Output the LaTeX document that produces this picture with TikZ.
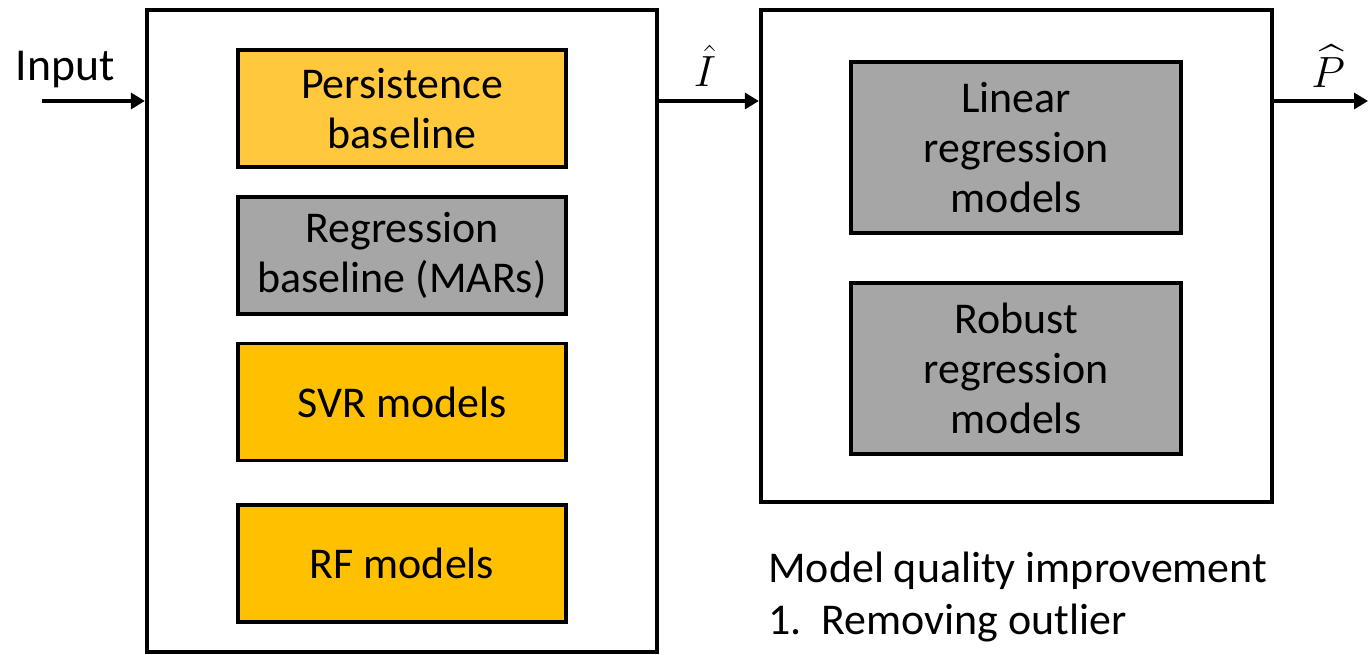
\documentclass[tikz,border=0pt]{standalone}
\usepackage{amsmath}
\usepackage{fontspec}
\setmainfont{Carlito}
\usepackage{tikz}
\usetikzlibrary{positioning, arrows.meta}
\definecolor{persist}{HTML}{FFC83D}
\definecolor{gold}{HTML}{FFC000}
\definecolor{grayfill}{HTML}{A6A6A6}
\tikzset{x=0.02cm, y=-0.02cm, % one unit is one pixel of the layout
outer/.style={draw, line width=2.5pt, minimum width=10.2cm}, % the two big frames
model/.style={draw, line width=2.2pt, align=center, minimum width=6.56cm, font=\fontsize{25}{28.5}\selectfont}, % the inner boxes
flow/.style={-{Triangle[length=0.28cm, width=0.32cm]}, line width=1.9pt}, % the signal arrows
}

\begin{document}
\begin{tikzpicture}
\useasboundingbox (0,0) rectangle (1368,655);

\node[outer, minimum height=12.84cm] (fc) at (402,331) {};
\node[model, fill=persist, minimum height=2.34cm] (pers) at (402,108.5) {Persistence\\baseline};
\node[model, fill=grayfill, minimum height=2.34cm] (mars) at (402,255.5) {Regression\\baseline (MARs)};
\node[model, fill=gold, minimum height=2.34cm] (svr) at (402,402) {SVR models};
\node[model, fill=gold, minimum height=2.34cm] (rf) at (402,563.5) {RF models};

\node[outer, minimum width=10.22cm, minimum height=9.84cm] (pc) at (1016.5,256) {};
\node[model, fill=grayfill, minimum width=6.6cm, minimum height=3.42cm] (lin) at (1016,147.5) {Linear\\regression\\models};
\node[model, fill=grayfill, minimum width=6.6cm, minimum height=3.42cm] (rob) at (1016,368.5) {Robust\\regression\\models};

\coordinate (in) at (42,101);
\coordinate (out) at (1368,101);
\coordinate (mid) at (657,101);

\draw[flow] (in) -- (in -| fc.west);
\draw[flow] (mid -| fc.east) -- (mid -| pc.west);
\draw[flow] (mid -| pc.east) -- (out);

\node[font=\fontsize{26}{30}\selectfont] (lin0) at (65,70) {Input};
\node[font=\fontsize{25}{28}\selectfont] (ihat) at (705,66) {$\hat{I}$};
\node[font=\fontsize{25}{28}\selectfont] (phat) at (1328,66) {$\widehat{P}$};

\node[anchor=west, align=left, inner sep=0pt, font=\fontsize{25}{29.5}\selectfont] (note) at (768,597)
  {Model quality improvement\\1.\ \ Removing outlier};
\end{tikzpicture}
\end{document}
